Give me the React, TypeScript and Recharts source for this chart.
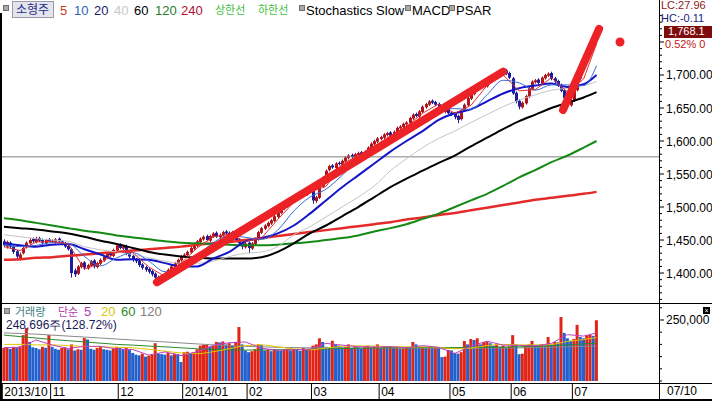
import React from "react";
import { Bar, Cell, ComposedChart, Line, ReferenceDot, ReferenceLine, XAxis, YAxis } from "recharts";

const FONT = '"Liberation Sans", Arial, sans-serif';
const KFONT = '"Noto Sans CJK KR", "Liberation Sans", sans-serif';

const UP = "#b0141c";
const DOWN = "#1c1c9c";
const VUP = "#e02418";
const VDOWN = "#2360cc";
const MARK = "#ec2227";

// daily candles, 2013/10 .. 2014/07/10 (one entry per trading day)
const opens = [
  1448, 1440, 1446, 1440, 1433, 1422, 1430, 1439, 1445, 1452, 1447, 1453, 1450, 1445, 1451,
  1449, 1446, 1452, 1448, 1445, 1441, 1436, 1404, 1399, 1409, 1416, 1407, 1411, 1419, 1409, 1414, 1419, 1424, 1431, 1426, 1434,
  1443, 1437, 1441, 1431, 1426, 1421, 1419, 1413, 1409, 1406, 1403, 1399, 1394, 1389, 1395, 1399, 1404, 1409, 1414, 1419,
  1426, 1427, 1431, 1437, 1441, 1447, 1451, 1456, 1449, 1455, 1461, 1454, 1457, 1463, 1461, 1457, 1461, 1451, 1446, 1439,
  1446, 1437, 1444, 1451, 1461, 1467, 1471, 1475, 1479, 1485, 1491, 1497, 1501, 1506, 1511, 1517, 1517, 1523, 1519, 1524,
  1526, 1509, 1514, 1531, 1544, 1556, 1563, 1559, 1567, 1564, 1569, 1574, 1579, 1575, 1579, 1583, 1577, 1583, 1589, 1595, 1599,
  1603, 1605, 1609, 1613, 1607, 1613, 1619, 1621, 1625, 1627, 1634, 1641, 1637, 1644, 1651, 1655, 1661, 1659, 1656, 1651, 1644, 1649,
  1643, 1641, 1638, 1633, 1646, 1654, 1664, 1671, 1677, 1681, 1687, 1683, 1689, 1693, 1697, 1699, 1703, 1707, 1703,
  1695, 1673, 1661, 1651, 1657, 1667, 1679, 1689, 1693, 1687, 1695, 1699, 1703, 1695, 1691, 1685, 1677, 1666, 1654,
  1661, 1677, 1694, 1711, 1724, 1734, 1747, 1757,
];
const highs = [
  1451, 1449, 1448, 1442, 1435, 1431, 1440, 1448, 1453, 1454, 1455, 1455, 1452, 1452, 1453,
  1451, 1453, 1454, 1450, 1447, 1443, 1438, 1407, 1412, 1417, 1418, 1414, 1420, 1421, 1417, 1422, 1427, 1432, 1433, 1437, 1444,
  1445, 1442, 1443, 1433, 1428, 1423, 1421, 1415, 1411, 1408, 1405, 1401, 1396, 1398, 1402, 1407, 1412, 1417, 1422, 1427,
  1430, 1434, 1440, 1444, 1450, 1454, 1457, 1458, 1458, 1462, 1463, 1460, 1464, 1465, 1463, 1464, 1463, 1453, 1448, 1447,
  1448, 1447, 1454, 1464, 1470, 1474, 1478, 1482, 1488, 1494, 1500, 1504, 1509, 1514, 1518, 1521, 1524, 1525, 1527, 1530,
  1528, 1517, 1532, 1547, 1557, 1564, 1565, 1568, 1569, 1572, 1577, 1580, 1581, 1582, 1584, 1585, 1586, 1592, 1598, 1602, 1606,
  1608, 1612, 1614, 1615, 1616, 1622, 1624, 1628, 1630, 1637, 1642, 1643, 1647, 1654, 1658, 1662, 1663, 1661, 1658, 1653, 1650, 1651,
  1645, 1643, 1640, 1647, 1657, 1667, 1674, 1680, 1684, 1688, 1689, 1692, 1696, 1700, 1702, 1706, 1708, 1709, 1705,
  1697, 1675, 1663, 1660, 1670, 1682, 1692, 1694, 1695, 1698, 1702, 1704, 1705, 1697, 1693, 1687, 1679, 1668, 1664,
  1678, 1697, 1714, 1727, 1737, 1750, 1760, 1770,
];
const lows = [
  1439, 1437, 1437, 1429, 1421, 1419, 1428, 1437, 1443, 1446, 1445, 1447, 1443, 1443, 1446,
  1445, 1444, 1446, 1442, 1438, 1434, 1393, 1394, 1397, 1407, 1405, 1405, 1409, 1407, 1407, 1412, 1417, 1422, 1425, 1424, 1432,
  1436, 1435, 1427, 1422, 1417, 1415, 1409, 1405, 1402, 1399, 1395, 1390, 1386, 1386, 1393, 1397, 1402, 1407, 1412, 1417,
  1424, 1425, 1429, 1435, 1439, 1445, 1449, 1448, 1447, 1453, 1453, 1452, 1455, 1458, 1456, 1455, 1447, 1442, 1436, 1437,
  1430, 1435, 1442, 1449, 1459, 1465, 1469, 1473, 1477, 1483, 1489, 1495, 1499, 1504, 1509, 1515, 1515, 1518, 1517, 1522,
  1505, 1506, 1512, 1529, 1542, 1554, 1558, 1557, 1563, 1562, 1567, 1572, 1574, 1573, 1577, 1576, 1575, 1581, 1587, 1593, 1597,
  1601, 1603, 1607, 1606, 1605, 1611, 1617, 1619, 1623, 1625, 1632, 1636, 1635, 1642, 1649, 1653, 1656, 1653, 1648, 1643, 1642, 1640,
  1638, 1633, 1627, 1631, 1644, 1652, 1662, 1669, 1675, 1679, 1682, 1681, 1687, 1691, 1695, 1697, 1701, 1700, 1694,
  1670, 1657, 1648, 1649, 1655, 1665, 1677, 1687, 1686, 1685, 1693, 1697, 1692, 1688, 1682, 1674, 1663, 1650, 1652,
  1659, 1675, 1692, 1709, 1722, 1732, 1745, 1755,
];
const closes = [
  1442, 1447, 1440, 1432, 1425, 1428, 1438, 1446, 1450, 1448, 1452, 1449, 1446, 1450, 1448,
  1447, 1451, 1448, 1444, 1440, 1436, 1400, 1398, 1410, 1415, 1408, 1412, 1418, 1410, 1415, 1420, 1425, 1430, 1427, 1435, 1442,
  1438, 1440, 1430, 1425, 1420, 1418, 1412, 1408, 1405, 1402, 1398, 1393, 1390, 1396, 1400, 1405, 1410, 1415, 1420, 1425,
  1428, 1432, 1438, 1442, 1448, 1452, 1455, 1450, 1456, 1460, 1455, 1458, 1462, 1460, 1458, 1462, 1450, 1445, 1440, 1445,
  1438, 1445, 1452, 1462, 1468, 1472, 1476, 1480, 1486, 1492, 1498, 1502, 1507, 1512, 1516, 1518, 1522, 1520, 1525, 1528,
  1510, 1515, 1530, 1545, 1555, 1562, 1560, 1566, 1565, 1570, 1575, 1578, 1576, 1580, 1582, 1578, 1584, 1590, 1596, 1600, 1604,
  1606, 1610, 1612, 1608, 1614, 1620, 1622, 1626, 1628, 1635, 1640, 1638, 1645, 1652, 1656, 1660, 1658, 1655, 1650, 1645, 1648, 1642,
  1640, 1636, 1632, 1645, 1655, 1665, 1672, 1678, 1682, 1686, 1684, 1690, 1694, 1698, 1700, 1704, 1706, 1702, 1696,
  1672, 1660, 1652, 1658, 1668, 1680, 1690, 1692, 1688, 1696, 1700, 1702, 1694, 1690, 1684, 1676, 1665, 1656, 1662,
  1676, 1695, 1712, 1725, 1735, 1748, 1758, 1768,
];
// volume, thousand shares
const volumeK = [
  135, 138, 132, 140, 136, 142, 188, 217, 160, 138, 135, 130, 140, 136, 188,
  140, 132, 128, 135, 138, 130, 150, 125, 130, 128, 176, 170, 132, 128, 135, 143, 130, 128, 125, 132, 140,
  136, 130, 138, 128, 115, 108, 105, 112, 100, 104, 110, 155, 112, 110, 108, 115, 105, 112, 110, 78,
  118, 120, 115, 118, 130, 145, 148, 150, 140, 145, 160, 158, 162, 150, 155, 145, 160, 221, 150, 125,
  118, 122, 130, 150, 148, 125, 128, 122, 130, 126, 124, 128, 132, 125, 130, 128, 124, 135, 130, 132,
  145, 150, 175, 160, 140, 135, 165, 150, 145, 138, 140, 150, 135, 142, 138, 132, 140, 145, 138, 142, 150,
  135, 140, 138, 142, 136, 138, 132, 134, 140, 135, 160, 150, 140, 140, 135, 142, 138, 140, 136, 98, 100, 127,
  125, 115, 112, 118, 164, 150, 172, 168, 175, 150, 160, 162, 155, 145, 150, 140, 145, 138, 142,
  188, 150, 110, 112, 145, 150, 164, 148, 145, 150, 145, 180, 150, 160, 158, 262, 197, 175, 165,
  172, 230, 180, 175, 188, 190, 185, 249,
];

// moving averages read every 5th trading day
const maDays = [0, 5, 10, 15, 20, 25, 30, 35, 40, 45, 50, 55, 60, 65, 70, 75, 80, 85, 90, 95, 100, 105, 110, 115, 120, 125, 130, 135, 140, 145, 150, 155, 160, 165, 170, 175, 180, 184];
const ma5 = [1440, 1434, 1447, 1448, 1444, 1406, 1415, 1432, 1431, 1409, 1395, 1415, 1438, 1455, 1459, 1448, 1453, 1481, 1507, 1523, 1531, 1565, 1578, 1590, 1608, 1622, 1642, 1656, 1642, 1654, 1684, 1700, 1676, 1678, 1696, 1674, 1694, 1747];
const ma10 = [1443, 1440, 1442, 1446, 1445, 1425, 1411, 1423, 1431, 1418, 1402, 1405, 1426, 1446, 1457, 1454, 1451, 1465, 1494, 1515, 1527, 1548, 1571, 1583, 1597, 1615, 1634, 1649, 1649, 1648, 1670, 1692, 1688, 1677, 1685, 1685, 1684, 1714];
const ma20 = [1445, 1442, 1440, 1443, 1444, 1436, 1428, 1420, 1421, 1420, 1415, 1410, 1410, 1422, 1432, 1448, 1453, 1460, 1472, 1490, 1510, 1530, 1548, 1566, 1584, 1600, 1615, 1632, 1642, 1648, 1660, 1672, 1680, 1684, 1687, 1682, 1686, 1700];
const ma40 = [1458, 1455, 1452, 1450, 1448, 1440, 1435, 1432, 1428, 1423, 1418, 1415, 1415, 1418, 1425, 1430, 1432, 1440, 1458, 1470, 1485, 1500, 1515, 1532, 1555, 1573, 1590, 1604, 1615, 1628, 1640, 1652, 1662, 1670, 1677, 1680, 1684, 1690];
const ma60 = [1470, 1468, 1466, 1463, 1460, 1455, 1449, 1444, 1438, 1432, 1428, 1425, 1423, 1422, 1422, 1422, 1424, 1432, 1445, 1460, 1472, 1486, 1500, 1515, 1530, 1543, 1555, 1567, 1578, 1592, 1605, 1618, 1630, 1640, 1650, 1658, 1666, 1674];
const ma120 = [1483, 1480, 1476, 1472, 1468, 1464, 1461, 1457, 1454, 1451, 1448, 1446, 1445, 1444, 1443, 1442, 1442, 1443, 1445, 1447, 1450, 1453, 1457, 1463, 1468, 1474, 1482, 1490, 1500, 1510, 1520, 1532, 1545, 1556, 1568, 1578, 1590, 1600];
const ma240 = [1420, 1421, 1423, 1424, 1426, 1428, 1430, 1432, 1434, 1436, 1438, 1440, 1443, 1445, 1447, 1450, 1453, 1456, 1459, 1462, 1465, 1468, 1471, 1474, 1477, 1481, 1484, 1488, 1491, 1495, 1499, 1503, 1507, 1511, 1514, 1517, 1520, 1523];
const volMa5K = [137, 138, 168, 147, 133, 142, 142, 131, 129, 106, 119, 104, 120, 146, 157, 160, 134, 126, 128, 130, 154, 147, 141, 139, 141, 136, 145, 138, 113, 143, 163, 147, 146, 144, 154, 190, 184, 197];
const volMa20K = [150, 150, 148, 148, 145, 142, 140, 138, 136, 130, 122, 115, 112, 120, 132, 145, 148, 140, 132, 128, 135, 142, 144, 143, 141, 140, 140, 138, 132, 135, 145, 150, 148, 148, 150, 162, 170, 178];
const volMa60K = [188, 182, 176, 170, 165, 160, 155, 150, 147, 143, 140, 136, 132, 130, 128, 127, 127, 128, 129, 130, 131, 133, 134, 135, 136, 136, 137, 137, 137, 138, 138, 139, 140, 142, 145, 148, 152, 155];
const volMa120K = [197, 195, 192, 188, 184, 180, 176, 172, 168, 164, 160, 156, 152, 148, 145, 142, 140, 138, 137, 136, 136, 135, 135, 135, 135, 135, 135, 134, 134, 134, 135, 135, 136, 137, 138, 140, 142, 143];

// axes
const monthTicks = [-0.5, 14.5, 35.5, 55.5, 75.5, 95.5, 116.5, 138.5, 157.5, 176.5];
const monthLabels = ["2013/10", "11", "12", "2014/01", "02", "03", "04", "05", "06", "07"];
const priceTicks = [1360, 1370, 1380, 1390, 1400, 1410, 1420, 1430, 1440, 1450, 1460, 1470, 1480, 1490, 1500, 1510, 1520, 1530, 1540, 1550, 1560, 1570, 1580, 1590, 1600, 1610, 1620, 1630, 1640, 1650, 1660, 1670, 1680, 1690, 1700, 1710, 1720, 1730, 1740, 1750, 1760, 1770, 1780, 1790];
const priceLabels = [1400, 1450, 1500, 1550, 1600, 1650, 1700];
const volTicks = [0, 50000, 100000, 150000, 200000, 250000, 300000];
const volLabels = [250000];

// hand-drawn trend marks
const trendUp = [{ x: 47.5, y: 1386 }, { x: 155, y: 1705 }];
const trendV = [{ x: 173.6, y: 1647 }, { x: 184.8, y: 1770 }];
const markDot = { x: 191.3, y: 1750 };
const baseLine = 1576;

const X_DOMAIN: [number, number] = [-0.6, 203.4];

const rows = closes.map((c, i) => {
  const k = maDays.indexOf(i);
  const at = (arr: number[], m = 1) => (k < 0 ? null : arr[k] * m);
  return {
    i, o: opens[i], h: highs[i], l: lows[i], c,
    vol: volumeK[i] * 1000,
    // volume bar is red when volume rose from the day before
    volUp: i === 0 || volumeK[i] >= volumeK[i - 1],
    ma5: at(ma5), ma10: at(ma10), ma20: at(ma20), ma40: at(ma40),
    ma60: at(ma60), ma120: at(ma120), ma240: at(ma240),
    v5: at(volMa5K, 1000), v20: at(volMa20K, 1000), v60: at(volMa60K, 1000), v120: at(volMa120K, 1000),
  };
});

function Candle(props: any) {
  const { x, y, width, height, payload } = props;
  if (!payload || height == null) return null;
  const { o, h, l, c } = payload;
  const top = Math.min(y, y + height);
  const span = Math.abs(height);
  const pos = (v: number) => top + ((h - v) / (h - l || 1)) * span;
  const cx = Math.round(x + width / 2) + 0.5;
  const color = c >= o ? UP : DOWN;
  const bTop = pos(Math.max(o, c));
  const bBot = pos(Math.min(o, c));
  return (
    <g>
      <line x1={cx} x2={cx} y1={top} y2={top + span} stroke={color} strokeWidth={1} />
      <rect x={cx - 1.5} y={bTop} width={3} height={Math.max(1, bBot - bTop)} fill={color} />
    </g>
  );
}

function PriceTick(props: any) {
  const { x, y, payload } = props;
  const v = payload.value as number;
  const major = v % 50 === 0;
  return (
    <g>
      <line x1={x} x2={x + (major ? 5 : 3)} y1={y} y2={y} stroke="#000" />
      {priceLabels.includes(v) && (
        <text x={x + 7} y={y + 4.5} fontSize={12} fontFamily={FONT} fill="#000">
          {v.toLocaleString("en-US", { minimumFractionDigits: 2 })}
        </text>
      )}
    </g>
  );
}

function VolTick(props: any) {
  const { x, y, payload } = props;
  const v = payload.value as number;
  const major = volLabels.includes(v);
  return (
    <g>
      <line x1={x} x2={x + (major ? 5 : 3)} y1={y} y2={y} stroke="#000" />
      {major && (
        <text x={x + 7} y={y + 4.5} fontSize={12} fontFamily={FONT} fill="#000">
          {v.toLocaleString("en-US")}
        </text>
      )}
    </g>
  );
}

function DateTick(props: any) {
  const { x, y, payload } = props;
  const k = monthTicks.indexOf(payload.value);
  return (
    <g>
      <line x1={x} x2={x} y1={y + 2} y2={y + 18} stroke="#000" />
      <text x={x + 2} y={y + 15} fontSize={12} fontFamily={FONT} fill="#000">{monthLabels[k]}</text>
    </g>
  );
}

function T({ x, y, color = "#000", size = 13, lh, font = FONT, children, style }: any) {
  return (
    <span style={{ position: "absolute", left: x, top: y, color, fontSize: size, fontFamily: font, lineHeight: `${lh ?? size}px`, whiteSpace: "nowrap", ...style }}>
      {children}
    </span>
  );
}

function Sq({ x, y }: { x: number; y: number }) {
  return <span style={{ position: "absolute", left: x, top: y, width: 4, height: 4, background: "#a8a8a8", border: "1px solid #707070" }} />;
}

function Rule({ x, y, w, h }: { x: number; y: number; w: number; h: number }) {
  return <div style={{ position: "absolute", left: x, top: y, width: w, height: h, background: "#000" }} />;
}

const line = (key: string, color: string, width = 1, curve: any = "monotone") => (
  <Line key={key} dataKey={key} stroke={color} strokeWidth={width} dot={false} activeDot={false} connectNulls type={curve} isAnimationActive={false} />
);

export default function App() {
  return (
    <div style={{ position: "absolute", left: 0, top: 0, width: 712, height: 401, background: "#fff", overflow: "hidden" }}>
      <div style={{ position: "absolute", left: 0, top: 14 }}>
        <ComposedChart width={712} height={289} data={rows} margin={{ top: 0, right: 0, bottom: 0, left: 2 }}>
          <XAxis dataKey="i" type="number" domain={X_DOMAIN} hide allowDataOverflow />
          <YAxis orientation="right" width={53} type="number" domain={[1354.6, 1792.4]} allowDataOverflow
            ticks={priceTicks} interval={0} tick={(p: any) => <PriceTick {...p} />} tickLine={false} axisLine={false} tickSize={0} tickMargin={0} />
          <ReferenceLine y={baseLine} stroke="#7f7f7f" strokeWidth={1} />
          {line("ma240", "#e42a2a", 2.5)}
          {line("ma120", "#148a14", 2)}
          {line("ma60", "#000000", 2)}
          {line("ma40", "#c4c4c4", 1)}
          {line("ma20", "#1414c8", 2)}
          {line("ma10", "#3a6ad8", 1)}
          <Bar dataKey={(d: any) => [d.l, d.h]} barSize={3} shape={(p: any) => <Candle {...p} />} isAnimationActive={false} />
          {line("ma5", "#e03030", 1, "linear")}
          <ReferenceLine segment={trendUp} stroke={MARK} strokeWidth={8} strokeLinecap="round" ifOverflow="visible" />
          <ReferenceLine segment={trendV} stroke={MARK} strokeWidth={8} strokeLinecap="round" ifOverflow="visible" />
          <ReferenceDot x={markDot.x} y={markDot.y} r={4.5} fill={MARK} stroke="none" ifOverflow="visible" />
        </ComposedChart>
      </div>

      <div style={{ position: "absolute", left: 0, top: 303 }}>
        <ComposedChart width={712} height={96} data={rows} margin={{ top: 0, right: 0, bottom: 0, left: 2 }}>
          <XAxis dataKey="i" type="number" domain={X_DOMAIN} allowDataOverflow ticks={monthTicks} interval={0} height={18}
            tick={(p: any) => <DateTick {...p} />} tickLine={false} axisLine={false} tickSize={0} tickMargin={0} />
          <YAxis orientation="right" width={53} type="number" domain={[0, 319600]} allowDataOverflow
            ticks={volTicks} interval={0} tick={(p: any) => <VolTick {...p} />} tickLine={false} axisLine={false} tickSize={0} tickMargin={0} />
          <Bar dataKey="vol" barSize={3} isAnimationActive={false}>
            {rows.map((r) => <Cell key={r.i} fill={r.volUp ? VUP : VDOWN} />)}
          </Bar>
          {line("v120", "#8a8a8a", 1)}
          {line("v60", "#2a8a2a", 1)}
          {line("v20", "#e0c800", 1)}
          {line("v5", "#c040c0", 1, "linear")}
        </ComposedChart>
      </div>

      {/* frame */}
      <Rule x={0} y={13} w={2} h={388} />
      <Rule x={659} y={0} w={1} h={401} />
      <Rule x={0} y={303} w={712} h={1} />
      <Rule x={0} y={383} w={712} h={1} />
      <Rule x={0} y={399} w={712} h={2} />

      {/* price legend */}
      <Sq x={3} y={5} />
      <span style={{ position: "absolute", left: 12, top: 1, width: 40, height: 15, background: "#e4e4ec", border: "1px solid #9a9aac" }} />
      <T x={16} y={3} size={12} font={KFONT} color="#1a2a8a">소형주</T>
      <T x={60} y={4} color="#c83a20">5</T>
      <T x={74} y={4} color="#2a5fb0">10</T>
      <T x={94} y={4} color="#1a1a6a">20</T>
      <T x={114} y={4} color="#c8c8c8">40</T>
      <T x={134} y={4} color="#000">60</T>
      <T x={155} y={4} color="#2a7a2a">120</T>
      <T x={181} y={4} color="#b01030">240</T>
      <T x={215} y={4} size={11} font={KFONT} color="#40c040">상한선</T>
      <T x={258} y={4} size={11} font={KFONT} color="#40c040">하한선</T>
      <Sq x={299} y={5} />
      <T x={306} y={4}>Stochastics Slow</T>
      <Sq x={405} y={5} />
      <T x={412} y={4}>MACD</T>
      <Sq x={449} y={5} />
      <T x={456} y={4}>PSAR</T>

      {/* price box on the right */}
      <T x={661} y={0} size={11} lh={11} color="#8b1a1a">LC:27.96</T>
      <T x={661} y={13} size={11} lh={11} color="#1a1a80">HC:-0.11</T>
      <div style={{ position: "absolute", left: 664, top: 26, width: 48, height: 12, background: "#7e0c0c" }} />
      <T x={668} y={26} size={11} lh={11} color="#fff">1,768.1</T>
      <T x={665} y={39} size={11} lh={11} color="#c01818">0.52% 0</T>

      {/* volume legend */}
      <Sq x={4} y={308} />
      <T x={15} y={306} size={11} font={KFONT} color="#3f8080">거래량</T>
      <T x={58} y={306} size={11} font={KFONT} color="#b03cb0">단순</T>
      <T x={84} y={305} color="#b03cb0">5</T>
      <T x={101} y={305} color="#d8c800">20</T>
      <T x={121} y={305} color="#2a8a2a">60</T>
      <T x={140} y={305} color="#808080">120</T>
      <T x={6} y={319} size={12} color="#1a1a5a">248,696주(128.72%)</T>
      <div style={{ position: "absolute", left: 703, top: 307, width: 7, height: 7, background: "#000", color: "#fff", fontSize: 7, lineHeight: "7px", textAlign: "center", fontFamily: FONT }}>×</div>

      <T x={667} y={385} size={12}>07/10</T>
    </div>
  );
}
